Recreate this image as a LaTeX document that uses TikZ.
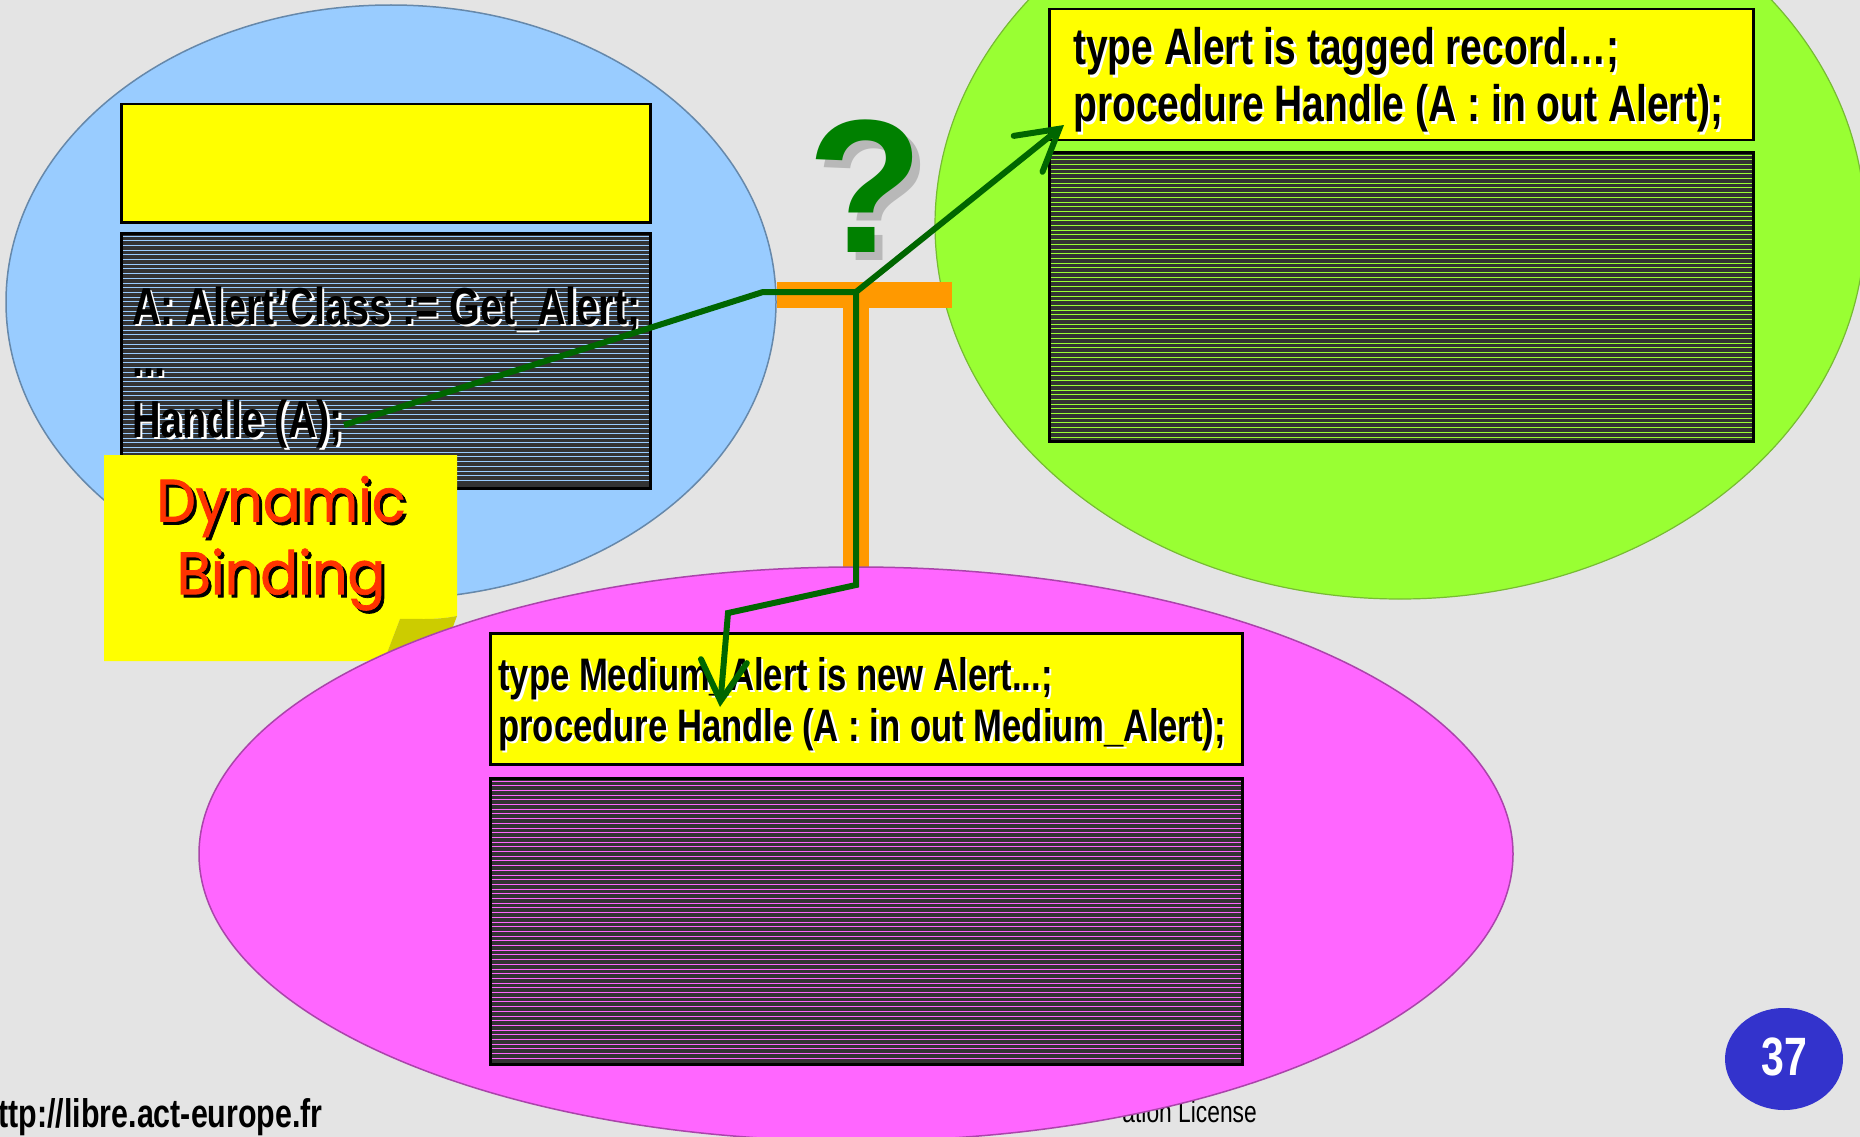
\documentclass[tikz,border=0pt]{standalone}
\usepackage{fontspec}
\setmainfont{Liberation Sans}
\newfontfamily\narrowfont[FakeStretch=0.76]{Liberation Sans}
\newfontfamily\notefont[FakeStretch=0.93,FakeBold=1.2]{Poppins}
\usetikzlibrary{arrows.meta}

\definecolor{bgcol}{HTML}{E4E4E4}
\definecolor{bluefill}{HTML}{99CCFF}
\definecolor{blueedge}{HTML}{6688AA}
\definecolor{greenfill}{HTML}{99FF33}
\definecolor{greenedge}{HTML}{77BB33}
\definecolor{pinkfill}{HTML}{FF66FF}
\definecolor{pinkedge}{HTML}{AA44AA}
\definecolor{codeyellow}{HTML}{FFFF00}
\definecolor{stripedark}{HTML}{333333}
\definecolor{tbar}{HTML}{FF9900}
\definecolor{linkgreen}{HTML}{006600}
\definecolor{qgreen}{HTML}{008000}
\definecolor{qshadow}{HTML}{B8B8B8}
\definecolor{foldcol}{HTML}{CCCC00}
\definecolor{notered}{HTML}{FF3300}
\definecolor{pageblue}{HTML}{3333CC}

\tikzset{
  frame/.style={draw=black, line width=2.5pt, inner sep=0pt, anchor=north west},
  headbox/.style={frame, fill=codeyellow},
  codetxt/.style={anchor=base west, inner sep=0pt, font=\narrowfont\bfseries},
  link/.style={draw=linkgreen, line width=6pt, line join=miter,
    -{Straight Barb[length=40pt, width=46pt, line cap=round]}},
  plainlink/.style={draw=linkgreen, line width=6pt, line join=miter},
  notetxt/.style={inner sep=0pt, font=\notefont\fontsize{60}{60}\selectfont},
}

% striped code area: name, x0, y0, x1, y1, stripe colour
\newcommand\stripedarea[6]{%
  \fill[stripedark] (#2,#3) rectangle (#4,#5);
  \pgfmathtruncatemacro\nstripes{(#5-#3-6)/4.7}
  \foreach \k in {0,...,\nstripes}
    \draw[#6, line width=0.9pt] (#2,{#3+4+\k*4.7}) -- (#4,{#3+4+\k*4.7});
  \node[frame, minimum width={(#4-#2)*1pt}, minimum height={(#5-#3)*1pt}] (#1) at (#2,#3) {};
}

% text with an offset shadow copy behind it: shadow colour, dx, dy, text
\newcommand\shadowed[4]{%
  \rlap{\hspace*{#2}\raisebox{-#3}{\textcolor{#1}{#4}}}#4}

% code line with a light offset shadow: name, x, y, size, text
\newcommand\codeline[5]{%
  \node[codetxt, text=black, font=\narrowfont\bfseries\fontsize{#4}{#4}\selectfont] (#1) at (#2,#3)
    {\shadowed{white}{2.5pt}{2.5pt}{#5}};
}

\begin{document}
\begin{tikzpicture}[x=1pt,y=-1pt]
\useasboundingbox (0,0) rectangle (1860,1137);
\clip (0,0) rectangle (1860,1137);
\fill[bgcol] (0,0) rectangle (1860,1137);

% the ellipses of the calling and the root units
\filldraw[fill=bluefill, draw=blueedge, line width=1.5pt] (391,302) ellipse [x radius=385pt, y radius=297pt];
\filldraw[fill=greenfill, draw=greenedge, line width=1.2pt] (1400,225) ellipse [x radius=465pt, y radius=374pt];

% caller: blue unit
\node[headbox, minimum width=529pt, minimum height=118pt] (blueHead) at (120,103) {};
\stripedarea{blueBody}{120}{232}{649}{487}{bluefill}
\codeline{getAlert}{132}{324}{52}{A: Alert’Class := Get\_Alert;}
\codeline{dots}{132}{376}{52}{...}
\codeline{handleA}{132}{437}{52}{Handle (A);}

% root type: green unit
\node[headbox, minimum width=704pt, minimum height=131pt] (greenHead) at (1048,8) {};
\stripedarea{greenBody}{1048}{151}{1752}{440}{greenfill}
\codeline{alertA}{1073}{65}{51.3}{type Alert is tagged record…;}
\codeline{alertB}{1073}{122}{51.3}{procedure Handle (A : in out Alert);}

% dispatching "T" and the question mark
\fill[tbar] (777,282) rectangle (952,308);
\fill[tbar] (843,308) rectangle (869,570);
\node[anchor=base, inner sep=0pt, text=qgreen, font=\bfseries\fontsize{190}{190}\selectfont] (q) at (866,252)
  {\shadowed{qshadow}{8pt}{8pt}{?}};

% sticky note with a curled corner
\fill[codeyellow] (104,455) -- (457,455) -- (457,616)
   .. controls (432,621) and (412,618) .. (400,619) -- (384,661) -- (104,661) -- cycle;
\fill[foldcol] (457,616) .. controls (432,621) and (412,618) .. (400,619)
   -- (384,661) -- (440,661) -- cycle;
\node[notetxt, text=notered] (dyn) at (281,508) {\shadowed{black}{3pt}{3pt}{Dynamic}};
\node[notetxt, text=notered] (bind) at (281,581) {\shadowed{black}{3pt}{3pt}{Binding}};

% footer texts
\node[anchor=base east, inner sep=0pt, font=\narrowfont\bfseries\fontsize{40}{40}\selectfont] (url) at (323,1127) {http://libre.act-europe.fr};
\node[anchor=base east, inner sep=0pt, font=\narrowfont\fontsize{30}{30}\selectfont] (lic) at (1257,1122) {ation License};

% derived type: magenta unit
\filldraw[fill=pinkfill, draw=pinkedge, line width=1.5pt] (856,854) ellipse [x radius=657pt, y radius=287pt];
\node[headbox, minimum width=752pt, minimum height=131pt] (pinkHead) at (489,632) {};
\stripedarea{pinkBody}{489}{777}{1241}{1063}{pinkfill}
\codeline{medA}{498}{690}{45.6}{type Medium\_Alert is new Alert...;}
\codeline{medB}{498}{741}{45.6}{procedure Handle (A : in out Medium\_Alert);}

% dispatch path
\coordinate (src) at (344,425);
\coordinate (b1) at (763,292);
\coordinate (j) at (856,292);
\coordinate (t1) at (1064,125);
\coordinate (v) at (856,585);
\coordinate (b2) at (728,613);
\coordinate (t2) at (720,707);
\draw[plainlink] (src) -- (b1) -- (j);
\draw[link] (j) -- (t1);
\draw[link] (j) -- (v) -- (b2) -- (t2);

% page number
\fill[pageblue] (1784,1059) ellipse [x radius=59pt, y radius=51pt];
\node[inner sep=0pt, text=white, font=\narrowfont\bfseries\fontsize{54}{54}\selectfont] (page) at (1784,1057) {37};
\end{tikzpicture}
\end{document}
